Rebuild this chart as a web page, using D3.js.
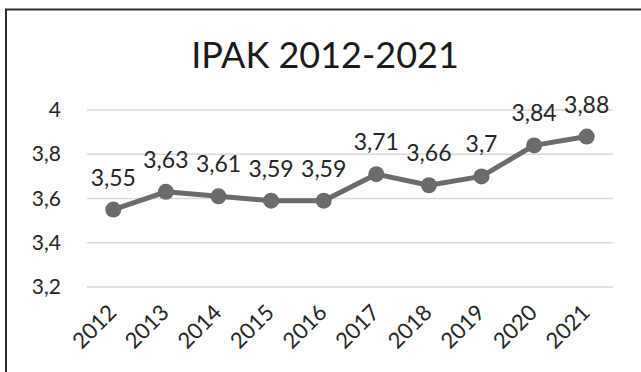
<!DOCTYPE html>
<html>
<head>
<meta charset="utf-8">
<script src="https://cdn.jsdelivr.net/npm/d3@7"></script>
<style>
  html, body { margin: 0; padding: 0; background: #fff; }
  svg { display: block; font-family: Lato, "Open Sans", sans-serif; }
</style>
</head>
<body>
<div id="chart"></div>
<script>
// IPAK 2012-2021 line chart

const years = ['2012', '2013', '2014', '2015', '2016', '2017', '2018', '2019', '2020', '2021'];
const values = [3.55, 3.63, 3.61, 3.59, 3.59, 3.71, 3.66, 3.7, 3.84, 3.88];
const yTicks = [3.2, 3.4, 3.6, 3.8, 4];
const titleText = 'IPAK 2012-2021';

const width = 641;
const height = 372;
const margin = { top: 110, right: 28, bottom: 85, left: 87 };

const svg = d3.select('#chart').append('svg')
    .attr('width', width)
    .attr('height', height);

// frame (only top and left edges visible)
svg.append('rect')
    .attr('x', 6)
    .attr('y', 9.5)
    .attr('width', 700)
    .attr('height', 420)
    .style('fill', 'none')
    .style('stroke', '#2b2b2b')
    .style('stroke-width', 2);

const xScale = d3.scalePoint()
    .domain(years)
    .range([margin.left, width - margin.right])
    .padding(0.5);

const yScale = d3.scaleLinear()
    .domain([3.2, 4])
    .range([height - margin.bottom, margin.top]);

// title
svg.append('text')
    .attr('x', 325)
    .attr('y', 68)
    .attr('text-anchor', 'middle')
    .style('font-size', '36px')
    .style('fill', '#1a1a1a')
    .text(titleText);

// gridlines
svg.append('g')
    .selectAll('line')
    .data(yTicks)
    .enter()
    .append('line')
    .attr('x1', margin.left)
    .attr('x2', width - margin.right)
    .attr('y1', d => yScale(d))
    .attr('y2', d => yScale(d))
    .style('stroke', '#d9d9d9')
    .style('stroke-width', 1.5);

// y axis labels
const fmt = d => String(d).replace('.', ',');
const yAxis = svg.append('g')
    .attr('transform', `translate(${margin.left},0)`)
    .call(d3.axisLeft(yScale).tickValues(yTicks).tickFormat(fmt).tickSize(0).tickPadding(26));
yAxis.select('.domain').remove();
yAxis.selectAll('text')
    .style('font-family', 'Lato, "Open Sans", sans-serif')
    .style('font-size', '21px')
    .style('fill', '#262626');

// x axis labels (rotated)
const xAxis = svg.append('g')
    .attr('transform', `translate(0,${height - margin.bottom})`)
    .call(d3.axisBottom(xScale).tickSize(0).tickPadding(0));
xAxis.select('.domain').remove();
xAxis.selectAll('text')
    .attr('text-anchor', 'end')
    .attr('dy', 0)
    .attr('transform', 'translate(4,27) rotate(-45)')
    .style('font-family', 'Lato, "Open Sans", sans-serif')
    .style('font-size', '22px')
    .style('fill', '#262626');

// line
const line = d3.line()
    .x((d, i) => xScale(years[i]))
    .y(d => yScale(d));

svg.append('path')
    .datum(values)
    .attr('d', line)
    .style('fill', 'none')
    .style('stroke', '#6b6b6b')
    .style('stroke-width', 5)
    .style('stroke-linejoin', 'round');

// markers
svg.selectAll('.marker')
    .data(values)
    .enter()
    .append('circle')
    .attr('class', 'marker')
    .attr('cx', (d, i) => xScale(years[i]))
    .attr('cy', d => yScale(d))
    .attr('r', 8)
    .style('fill', '#6b6b6b');

// data labels
svg.selectAll('.data-label')
    .data(values)
    .enter()
    .append('text')
    .attr('class', 'data-label')
    .attr('x', (d, i) => xScale(years[i]))
    .attr('y', d => yScale(d) - 24)
    .attr('text-anchor', 'middle')
    .style('font-size', '23px')
    .style('fill', '#262626')
    .text(d => fmt(d));
</script>
</body>
</html>
